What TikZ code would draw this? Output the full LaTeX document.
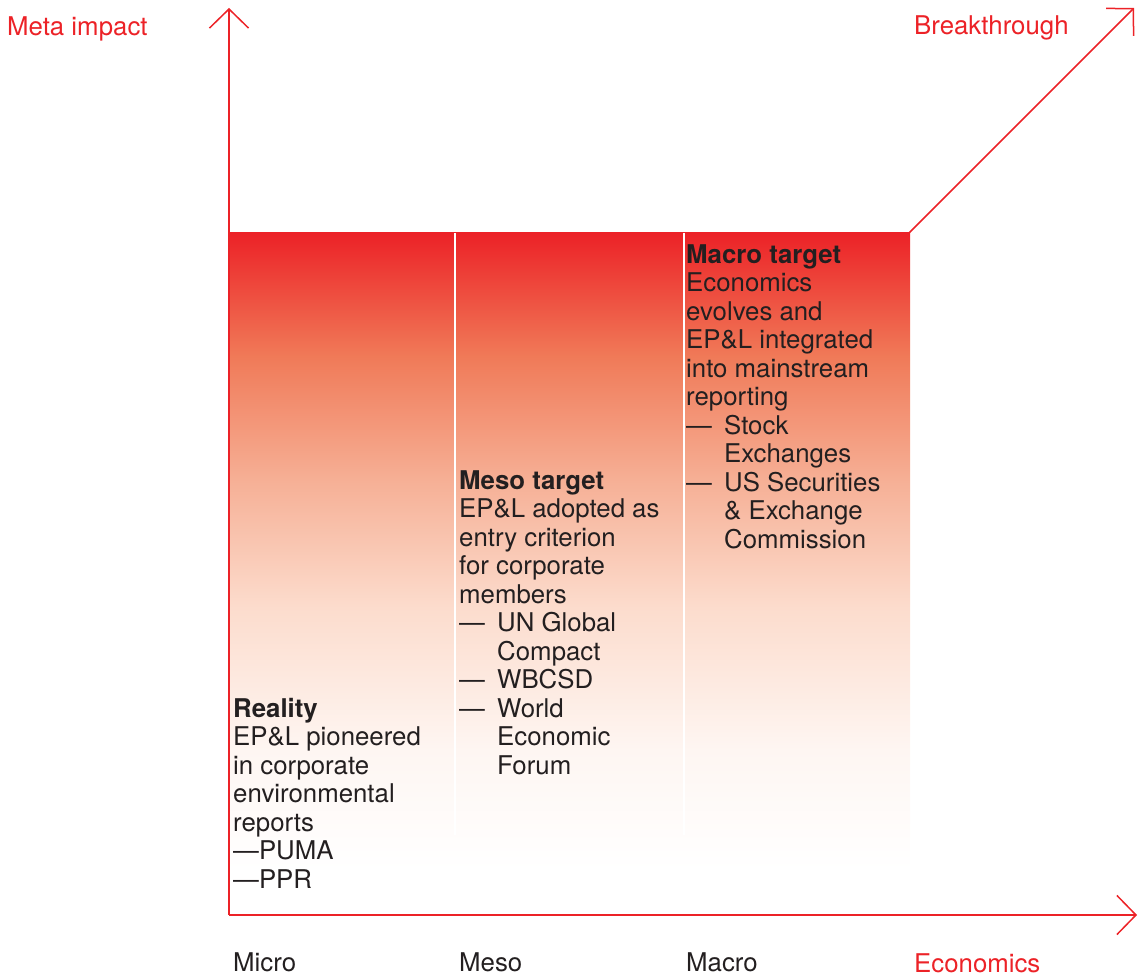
\documentclass[tikz,border=0pt]{standalone}
\usepackage{fontspec}
\setmainfont{TeX Gyre Heros}
\usepackage{tikz}
\usetikzlibrary{arrows.meta,positioning}
\definecolor{colorAccent}{HTML}{EC2227}
\definecolor{colorText}{HTML}{231F20}
\definecolor{shadeA}{HTML}{F07A58}
\definecolor{shadeB}{HTML}{F6B096}
\definecolor{shadeC}{HTML}{FCDCCD}
\definecolor{shadeD}{HTML}{FEF6F2}
\pgfdeclareverticalshading{shadeImpact}{100bp}{color(0bp)=(white); color(25bp)=(white);
  color(34.4bp)=(shadeD); color(45.6bp)=(shadeC); color(55.5bp)=(shadeB);
  color(65.3bp)=(shadeA); color(75bp)=(colorAccent); color(100bp)=(colorAccent)}

\begin{document}
\begin{tikzpicture}[x=1pt,y=-1pt,
        axisline/.style={colorAccent, line width=1.5pt, -{Straight Barb[length=19pt,width=39pt,line width=1.5pt]}},
        axislabel/.style={colorAccent, anchor=base west, inner sep=0pt, font=\fontsize{25.8}{28.5}\selectfont},
        levellabel/.style={colorText, anchor=base west, inner sep=0pt, font=\fontsize{25.8}{28.5}\selectfont},
        colbox/.style={colorText, anchor=north west, inner sep=0pt, align=left, font=\fontsize{25.8}{28.5}\selectfont}]
        \useasboundingbox (0,0) rectangle (1146,976);
        % gradient band
        \shade[shading=shadeImpact] (229,233) rectangle (910,870);
        \draw[white, line width=1.5pt] (455,233) -- (455,835);
        \draw[white, line width=1.5pt] (684,233) -- (684,835);
        % axes
        \coordinate (origin) at (229,915);
        \coordinate (ytip) at (229,8);
        \coordinate (xtip) at (1137,915);
        \coordinate (kink) at (909,233);
        \coordinate (btip) at (1134,8);
        \draw[axisline] (origin) -- (ytip);
        \draw[axisline] (origin) -- (xtip);
        \draw[axisline] (kink) -- (btip);
        % labels
        \node[axislabel] (meta) at (7,36) {Meta impact};
        \node[axislabel] (breakthrough) at (914,35) {Breakthrough};
        \node[axislabel] (economics) at (914,972) {Economics};
        \node[levellabel] (micro) at (233,971) {Micro};
        \node[levellabel] (meso) at (459,971) {Meso};
        \node[levellabel] (macro) at (686,971) {Macro};
        % column texts
        \node[colbox] (reality) at (233,698) {\textbf{Reality}\\EP\&L pioneered\\in corporate\\environmental\\reports\\---PUMA\\---PPR};
        \node[colbox] (mesotarget) at (459,470) {\textbf{Meso target}\\EP\&L adopted as\\entry criterion\\for corporate\\members\\
            \makebox[38pt][l]{---}UN Global\\\hspace*{38pt}Compact\\\makebox[38pt][l]{---}WBCSD\\
            \makebox[38pt][l]{---}World\\\hspace*{38pt}Economic\\\hspace*{38pt}Forum};
        \node[colbox] (macrotarget) at (686,244) {\textbf{Macro target}\\Economics\\evolves and\\EP\&L integrated\\into mainstream\\reporting\\
            \makebox[38pt][l]{---}Stock\\\hspace*{38pt}Exchanges\\\makebox[38pt][l]{---}US Securities\\
            \hspace*{38pt}\& Exchange\\\hspace*{38pt}Commission};
    \end{tikzpicture}
\end{document}
